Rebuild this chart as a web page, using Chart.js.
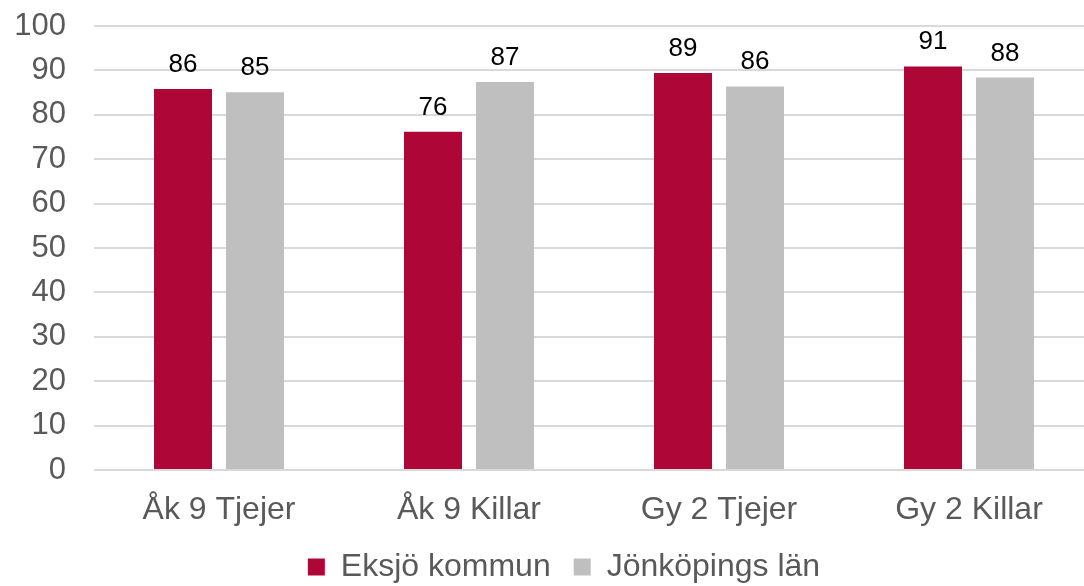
<!DOCTYPE html>
<html lang="sv">
<head>
  <meta charset="UTF-8" />
  <title>Eksjö kommun och Jönköpings län</title>
  <script src="https://cdn.jsdelivr.net/npm/chart.js"></script>
  <style>
    html, body { margin: 0; padding: 0; background: #fff; overflow: hidden; }
    /* plotytan går ut lite till höger om bilden, som i originalet */
    #wrap { width: 1094px; height: 586px; }
  </style>
</head>
<body>
  <div id="wrap"><canvas id="chart"></canvas></div>
  <script>
    const kategorier = ['Åk 9 Tjejer', 'Åk 9 Killar', 'Gy 2 Tjejer', 'Gy 2 Killar'];
    const eksjo = [85.8, 76.2, 89.4, 90.9];
    const jonkoping = [85.1, 87.4, 86.4, 88.4];
    const serienamn = ['Eksjö kommun', 'Jönköpings län'];

    const typsnitt = '"Liberation Sans", Arial, sans-serif';

    // siffror ovanför staplarna
    const etiketter = {
      id: 'etiketter',
      afterDatasetsDraw(chart) {
        const ctx = chart.ctx;
        ctx.save();
        ctx.font = '26px ' + typsnitt;
        ctx.fillStyle = '#000';
        ctx.textAlign = 'center';
        ctx.textBaseline = 'alphabetic';
        chart.data.datasets.forEach((ds, i) => {
          chart.getDatasetMeta(i).data.forEach((bar, j) => {
            ctx.fillText(Math.round(ds.data[j]), bar.x, bar.y - 17);
          });
        });
        ctx.restore();
      }
    };

    // flytta förklaringen lite åt höger
    const flyttaLegend = {
      id: 'flyttaLegend',
      afterLayout(chart) {
        chart.legend.left += 17;
        chart.legend.right += 17;
      }
    };

    new Chart(document.getElementById('chart'), {
      type: 'bar',
      data: {
        labels: kategorier,
        datasets: [
          { label: serienamn[0], data: eksjo, backgroundColor: '#AF0638' },
          { label: serienamn[1], data: jonkoping, backgroundColor: '#BFBFBF' }
        ]
      },
      options: {
        responsive: true,
        maintainAspectRatio: false,
        animation: false,
        categoryPercentage: 0.576,
        barPercentage: 0.806,
        layout: { padding: { left: 0, right: 0, top: 0, bottom: -7 } },
        plugins: {
          legend: {
            position: 'bottom',
            labels: {
              font: { family: typsnitt, size: 32 },
              color: '#595959',
              boxWidth: 17,
              boxHeight: 17,
              padding: 23
            }
          },
          tooltip: { enabled: false }
        },
        scales: {
          x: {
            grid: { display: false },
            border: { display: false },
            ticks: {
              font: { family: typsnitt, size: 32, lineHeight: 0.24 },
              color: '#595959',
              padding: 28
            },
            afterFit(scale) { scale.height = 58; }
          },
          y: {
            min: 0,
            max: 100,
            ticks: {
              stepSize: 10,
              font: { family: typsnitt, size: 31 },
              color: '#595959',
              padding: 28
            },
            grid: { color: '#D9D9D9', lineWidth: 2, drawTicks: false },
            border: { display: false },
            afterFit(scale) {
              scale.width = 94;
              scale.paddingTop = 26;
              scale.paddingBottom = 0;
            }
          }
        }
      },
      plugins: [etiketter, flyttaLegend]
    });
  </script>
</body>
</html>
